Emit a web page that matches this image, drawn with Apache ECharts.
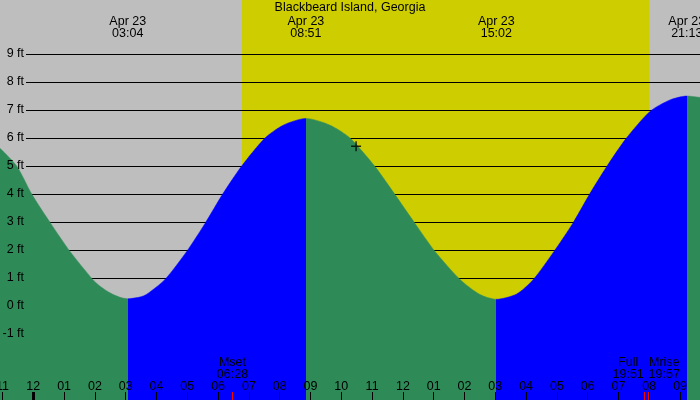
<!DOCTYPE html>
<html><head><meta charset="utf-8">
<script src="https://cdn.jsdelivr.net/npm/echarts@6/dist/echarts.min.js"></script>
<style>html,body{margin:0;padding:0;background:#bebebe}#c{width:700px;height:400px}</style>
</head><body><div id="c"></div><script>
// ---- data (hours measured from 00:00 Apr 23) ----
const chartTitle = 'Blackbeard Island, Georgia';
const viewStartHour = -1.081;
const viewEndHour = 21.646;
const viewMinFeet = -3.357;
const viewMaxFeet = 10.929;
const curveHours = [-1.081, -0.539, -0.052, 0.565, 1.192, 1.929, 2.166, 2.49, 2.815, 3.067,
  3.464, 3.682, 4.276, 4.981, 5.575, 6.149, 6.766, 7.523, 8.117, 8.85,
  9.633, 10.282, 11.094, 11.743, 12.393, 13.042, 13.854, 14.503, 15.033,
  15.695, 16.234, 16.906, 17.513, 18.052, 18.617, 19.244, 20.023, 20.672, 21.217, 21.646];
const curveFeet  = [5.63, 5.0, 4.0, 2.95, 1.95, 0.95, 0.71, 0.47, 0.31, 0.26,
  0.32, 0.42, 0.95, 1.95, 2.95, 4.0, 5.0, 6.0, 6.46, 6.70,
  6.46, 6.0, 4.98, 3.98, 2.95, 1.95, 0.95, 0.41, 0.24,
  0.43, 0.95, 1.95, 2.95, 3.98, 4.98, 5.98, 6.95, 7.36, 7.5, 7.45];
const tideHours = [3.067, 8.85, 15.033, 21.217];
const tideDates = ['Apr 23', 'Apr 23', 'Apr 23', 'Apr 23'];
const tideClock = ['03:04', '08:51', '15:02', '21:13'];
const tideKinds = ['low', 'high', 'low', 'high'];
const hourTicks = [-1,0,1,2,3,4,5,6,7,8,9,10,11,12,13,14,15,16,17,18,19,20,21];
const midnightHours = [0];
const moonHours = [6.467, 19.85, 19.95];
const moonNames = ['Mset', 'Full', 'Mrise'];
const moonClock = ['06:28', '19:51', '19:57'];
const sunriseHour = 6.77;
const sunsetHour = 20.0;
const nowHour = 10.48;
const nowFeet = 5.71;
const footMin = -1, footMax = 9;

// ---- styles ----
const FONT = 'Liberation Sans, Arial, sans-serif';
const FS = 12.5;
const NIGHT = '#bebebe', DAY = '#cdcd00', FALLING = '#2e8b57', RISING = '#0000ff';
const moonPad = [[0, 0, 0, 0], [0, 33, 0, 0], [0, 0, 0, 33]];

const pieces = [];
let prev = null;
tideHours.forEach((h, i) => {
  const p = { lt: h, color: tideKinds[i] === 'low' ? FALLING : RISING };
  if (prev !== null) p.gte = prev;
  pieces.push(p); prev = h;
});
pieces.push({ gte: prev, color: tideKinds[tideKinds.length - 1] === 'low' ? RISING : FALLING });

function hourLabel(v) {
  let h = ((Math.round(v) % 12) + 12) % 12;
  if (h === 0) h = 12;
  return (h < 10 ? '0' : '') + h;
}
const baseX = { min: viewStartHour, max: viewEndHour, type: 'value', gridIndex: 0, position: 'bottom', z: 10,
  axisLine: { show: false, onZero: false }, splitLine: { show: false } };

const moonAxes = moonHours.map((mh, i) => Object.assign({}, baseX, {
  axisTick: { show: true, inside: true, length: 8, customValues: [mh], lineStyle: { color: '#ff0000', width: 1 } },
  axisLabel: { show: true, inside: true, margin: 19, customValues: [mh], hideOverlap: false,
    formatter: () => moonNames[i] + '\n' + moonClock[i],
    color: '#000', fontFamily: FONT, fontSize: FS, lineHeight: 12, padding: moonPad[i] } }));

const chart = echarts.init(document.getElementById('c'), null, { renderer: 'canvas' });
chart.setOption({
  animation: false,
  backgroundColor: NIGHT,
  textStyle: { fontFamily: FONT },
  title: { text: chartTitle, left: 'center', top: 1, padding: 0,
    textStyle: { fontFamily: FONT, fontSize: FS, fontWeight: 'normal', color: '#000', lineHeight: 13 } },
  grid: [
    { left: 0, right: 0, top: 0, bottom: 0, containLabel: false, outerBoundsMode: 'none' },
    { left: 26, right: 0, top: 54, bottom: 66, containLabel: false, outerBoundsMode: 'none' }
  ],
  visualMap: { show: false, type: 'piecewise', dimension: 0, seriesIndex: 1, pieces: pieces },
  xAxis: [
    Object.assign({}, baseX, {
      axisTick: { show: true, inside: true, length: 8, customValues: hourTicks, lineStyle: { color: '#000', width: 1 } },
      axisLabel: { show: true, inside: true, margin: 7, customValues: hourTicks, formatter: hourLabel, hideOverlap: false,
        color: '#000', fontFamily: FONT, fontSize: FS } }),
    Object.assign({}, baseX, {
      axisTick: { show: true, inside: true, length: 8, customValues: midnightHours, lineStyle: { color: '#000', width: 3 } },
      axisLabel: { show: false } }),
    ...moonAxes,
    Object.assign({}, baseX, { position: 'top',
      axisTick: { show: false },
      axisLabel: { show: true, inside: true, margin: 16, customValues: tideHours, hideOverlap: false,
        formatter: (v) => {
          const i = tideHours.findIndex(m => Math.abs(m - v) < 1e-6);
          return tideDates[i] + '\n' + tideClock[i];
        },
        color: '#000', fontFamily: FONT, fontSize: FS, lineHeight: 12 } }),
    { type: 'value', gridIndex: 1, min: 0, max: 1, show: false }
  ],
  yAxis: [
    { type: 'value', gridIndex: 0, min: viewMinFeet, max: viewMaxFeet, show: false },
    { type: 'value', gridIndex: 1, position: 'left', min: footMin, max: footMax, interval: 1, z: 0,
      axisLine: { show: false, onZero: false }, axisTick: { show: false }, axisLabel: { show: false },
      splitLine: { show: true, lineStyle: { color: '#000', width: 1 } } },
    { type: 'value', gridIndex: 1, position: 'left', min: footMin, max: footMax, interval: 1, z: 10,
      axisLine: { show: false, onZero: false }, axisTick: { show: false }, splitLine: { show: false },
      axisLabel: { show: true, margin: 2, formatter: '{value} ft', color: '#000', fontFamily: FONT, fontSize: FS } }
  ],
  series: [
    { type: 'custom', xAxisIndex: 0, yAxisIndex: 0, z: -1, silent: true,
      data: [[sunriseHour, sunsetHour]],
      renderItem: (params, api) => {
        const p0 = api.coord([api.value(0), viewMaxFeet]);
        const p1 = api.coord([api.value(1), viewMinFeet]);
        return { type: 'rect', shape: { x: p0[0], y: p0[1], width: p1[0] - p0[0], height: p1[1] - p0[1] },
          style: { fill: DAY } };
      } },
    { type: 'line', xAxisIndex: 0, yAxisIndex: 0, z: 2, smooth: 0.25, symbol: 'none',
      data: curveHours.map((h, i) => [h, curveFeet[i]]),
      lineStyle: { width: 0.5 }, areaStyle: { opacity: 1, origin: 'start' } },
    { type: 'scatter', xAxisIndex: 0, yAxisIndex: 0, z: 5, symbol: 'path://M0,5L10,5M5,0L5,10', symbolSize: 10,
      itemStyle: { color: 'rgba(0,0,0,0)', borderColor: '#000', borderWidth: 1.5 },
      data: [[nowHour, nowFeet]] }
  ]
});
</script></body></html>
